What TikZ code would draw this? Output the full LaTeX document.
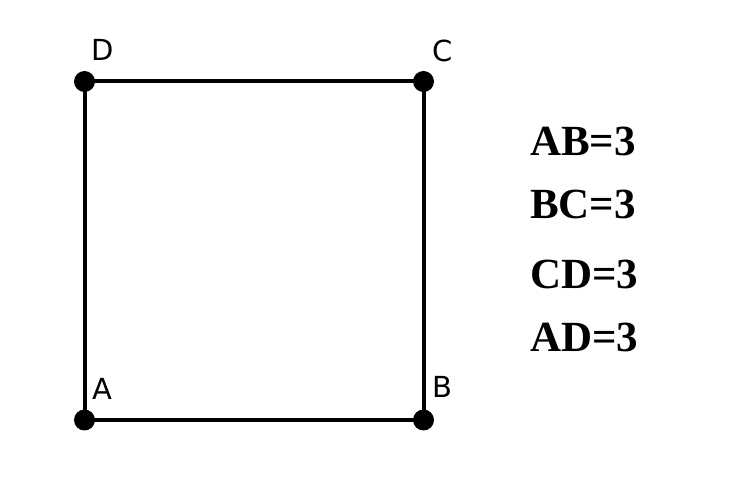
\documentclass[tikz,border=0pt]{standalone}
\usepackage{fontspec}
\newfontfamily\labfont{DejaVu Sans}
\newfontfamily\eqfont{Liberation Serif}
\begin{document}
\begin{tikzpicture}[x=1pt,y=1pt,
  side/.style={line width=4pt},
  vertex/.style={circle,fill=black,inner sep=0pt,minimum size=21pt},
  vlabel/.style={font=\labfont\fontsize{29}{29}\selectfont,inner sep=0pt,anchor=center},
  eqtext/.style={font=\eqfont\bfseries\fontsize{43}{43}\selectfont,inner sep=0pt,anchor=west}]
\useasboundingbox (0,0) rectangle (748,504);
\coordinate (A) at (84.5,84);
\coordinate (B) at (423.5,84);
\coordinate (C) at (423.5,422.5);
\coordinate (D) at (84.5,422.5);
\draw[side] (A) -- (B) -- (C) -- (D) -- cycle;
\node[vertex] (vA) at (A) {};
\node[vertex] (vB) at (B) {};
\node[vertex] (vC) at (C) {};
\node[vertex] (vD) at (D) {};
\node[vlabel] (lA) at (102.5,115) {A};
\node[vlabel] (lB) at (442.5,117) {B};
\node[vlabel] (lC) at (443,453) {C};
\node[vlabel] (lD) at (103,454) {D};
\node[eqtext] (e1) at (530,363) {AB=3};
\node[eqtext] (e2) at (530,300) {BC=3};
\node[eqtext] (e3) at (530,230) {CD=3};
\node[eqtext] (e4) at (530,167) {AD=3};
\end{tikzpicture}
\end{document}
